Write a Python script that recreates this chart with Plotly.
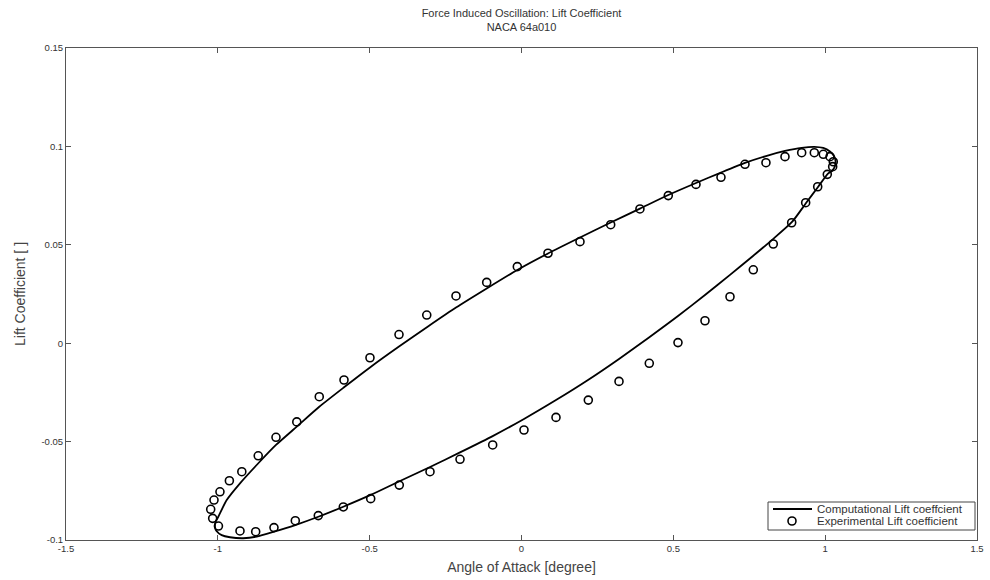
import plotly.graph_objects as go

# Computational lift coefficient loop (angle of attack [deg], Cl)
comp_alpha = [-1.0093, -1.0077, -0.9985, -0.9708, -0.927, -0.8667, -0.8085, -0.740, -0.666, -0.5845,
              -0.499, -0.4034, -0.3079, -0.2157, -0.1146, -0.0138, 0.0872, 0.1926, 0.2937, 0.390,
              0.4834, 0.5746, 0.6569, 0.736, 0.805, 0.8677, 0.9227, 0.9642, 0.9938, 1.0159,
              1.0291, 1.034, 1.0324, 1.0225,
              1.0093, 0.9764, 0.9369, 0.8908, 0.8282, 0.7623, 0.6866, 0.6042, 0.5153, 0.4198,
              0.3211, 0.219, 0.1136, 0.0082, -0.0949, -0.2025, -0.3013, -0.4001, -0.4966, -0.5868,
              -0.6692, -0.7449, -0.8151, -0.872, -0.9161, -0.9599, -0.9873, -1.0044, -1.0093]
comp_cl = [-0.0934, -0.0909, -0.0882, -0.0797, -0.0712, -0.061, -0.0517, -0.0424, -0.0323, -0.0224,
           -0.0123, -0.0017, 0.0085, 0.0181, 0.0278, 0.0372, 0.0456, 0.0537, 0.0613, 0.0684,
           0.0753, 0.0814, 0.0867, 0.0916, 0.0951, 0.0977, 0.0993, 0.0998, 0.0992, 0.0974,
           0.0951, 0.0926, 0.090, 0.0875,
           0.0862, 0.0794, 0.0712, 0.0616, 0.0529, 0.0443, 0.0347, 0.0245, 0.0138, 0.0029,
           -0.008, -0.0187, -0.0289, -0.0385, -0.0472, -0.0555, -0.0629, -0.070, -0.0771, -0.0831,
           -0.0882, -0.0924, -0.0958, -0.0983, -0.0991, -0.0986, -0.0975, -0.0954, -0.0934]

# Experimental lift coefficient
exp_alpha = [-0.998, -1.017, -1.0235, -1.0126, -0.993, -0.962, -0.921, -0.867, -0.8085, -0.740,
             -0.666, -0.5845, -0.499, -0.4034, -0.312, -0.2157, -0.1146, -0.0138, 0.0872, 0.1926,
             0.2937, 0.390, 0.4834, 0.5746, 0.6569, 0.736, 0.805, 0.8677, 0.9227, 0.9642,
             0.9938, 1.0159, 1.0267, 1.0247, 1.007, 0.9754, 0.9358, 0.8897, 0.8291, 0.7633,
             0.6866, 0.6042, 0.5153, 0.4208, 0.3211, 0.220, 0.1136, 0.0082, -0.0949, -0.2025,
             -0.3013, -0.4024, -0.4966, -0.5868, -0.6692, -0.7449, -0.8151, -0.8753, -0.927]
exp_cl = [-0.0929, -0.089, -0.0844, -0.0797, -0.0755, -0.0699, -0.0653, -0.0572, -0.0478, -0.040,
          -0.0272, -0.0187, -0.0074, 0.0044, 0.0143, 0.024, 0.0309, 0.0389, 0.0457, 0.0516,
          0.0602, 0.0682, 0.075, 0.0807, 0.0843, 0.0909, 0.0917, 0.0948, 0.0968, 0.0968,
          0.096, 0.0948, 0.0922, 0.0897, 0.0858, 0.0795, 0.0714, 0.0612, 0.0504, 0.0373,
          0.0236, 0.0114, 0.0003, -0.0102, -0.0194, -0.0289, -0.0377, -0.0441, -0.0517, -0.059,
          -0.0653, -0.0721, -0.079, -0.0832, -0.0876, -0.0902, -0.0937, -0.0958, -0.0954]

x_ticks = [-1.5, -1, -0.5, 0, 0.5, 1, 1.5]
x_tick_text = ["-1.5", "-1", "-0.5", "0", "0.5", "1", "1.5"]
y_ticks = [-0.1, -0.05, 0, 0.05, 0.1, 0.15]
y_tick_text = ["-0.1", "-0.05", "0", "0.05", "0.1", "0.15"]

comp_name = "Computational Lift coeffcient"
exp_name = "Experimental Lift coefficient"

FONT = "Liberation Sans, Arial, sans-serif"
W, H = 990, 580
L, R, T, B = 66, 13, 48, 40
PW, PH = W - L - R, H - T - B


def px(xp):
    return (xp - L) / PW


def py(yp):
    return (H - B - yp) / PH


fig = go.Figure()
fig.add_trace(go.Scatter(
    x=comp_alpha, y=comp_cl, mode="lines",
    line=dict(color="black", width=1.8, shape="spline", smoothing=0.6),
    name=comp_name, showlegend=False,
))
fig.add_trace(go.Scatter(
    x=exp_alpha, y=exp_cl, mode="markers",
    marker=dict(symbol="circle-open", size=8, color="black", line=dict(width=1.6, color="black")),
    name=exp_name, showlegend=False,
))

axis_common = dict(
    showgrid=False, zeroline=False, showline=True, linecolor="#555", linewidth=1,
    mirror="ticks", ticks="inside", ticklen=5, tickcolor="#555", tickwidth=1,
    tickfont=dict(family=FONT, size=9.5, color="#333"),
    automargin=False,
)

# Manual legend box (MATLAB style)
shapes = [
    dict(type="rect", xref="paper", yref="paper", x0=px(768), x1=px(975), y0=py(530), y1=py(502),
         line=dict(color="#444", width=1), fillcolor="white", layer="above"),
    dict(type="line", xref="paper", yref="paper", x0=px(773), x1=px(812), y0=py(509), y1=py(509),
         line=dict(color="black", width=1.8), layer="above"),
    dict(type="circle", xref="paper", yref="paper", x0=px(788), x1=px(796), y0=py(525), y1=py(517),
         line=dict(color="black", width=1.6), layer="above"),
]
annotations = [
    dict(text=comp_name, xref="paper", yref="paper", x=px(815), y=py(509), xanchor="left", yanchor="middle",
         showarrow=False, font=dict(family=FONT, size=11.5, color="#333")),
    dict(text=exp_name, xref="paper", yref="paper", x=px(815), y=py(521), xanchor="left", yanchor="middle",
         showarrow=False, font=dict(family=FONT, size=11.5, color="#333")),
]

fig.update_layout(
    width=W, height=H,
    margin=dict(l=L, r=R, t=T, b=B, autoexpand=False),
    paper_bgcolor="white", plot_bgcolor="white",
    title=dict(
        text="Force Induced Oscillation: Lift Coefficient<br>NACA 64a010",
        x=(L + W - R) / 2 / W, xanchor="center",
        y=1 - 17 / H, yanchor="middle", yref="container",
        font=dict(family=FONT, size=11, color="#333"),
    ),
    xaxis=dict(
        range=[-1.5, 1.5], tickvals=x_ticks, ticktext=x_tick_text,
        title=dict(text="Angle of Attack [degree]", font=dict(family=FONT, size=14, color="#444"), standoff=8),
        **axis_common,
    ),
    yaxis=dict(
        range=[-0.1, 0.15], tickvals=y_ticks, ticktext=y_tick_text,
        title=dict(text="Lift Coefficient [ ]", font=dict(family=FONT, size=14, color="#444"), standoff=12),
        **axis_common,
    ),
    shapes=shapes,
    annotations=annotations,
    showlegend=False,
)

fig.write_html("out.html")
